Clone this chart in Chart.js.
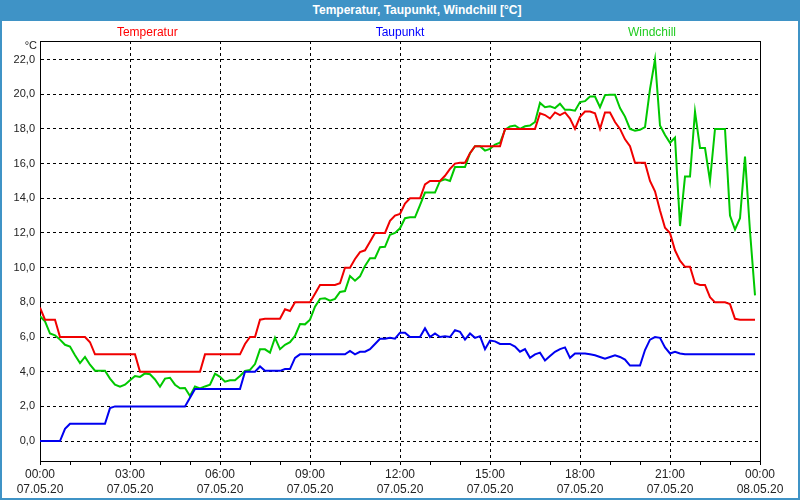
<!DOCTYPE html>
<html>
<head>
<meta charset="utf-8">
<script src="https://cdn.jsdelivr.net/npm/chart.js@4/dist/chart.umd.min.js"></script>
<style>
  body { margin: 0; background: #fff; }
  #frame { position: absolute; left: 0; top: 0; width: 800px; height: 500px; box-sizing: border-box;
           border: 2px solid #3f93c6; border-top: 0; background: #fff; }
  #bar { height: 21px; background: #3f93c6; color: #fff; font: bold 12px 'Liberation Sans', sans-serif;
         line-height: 20px; text-align: center; padding-left: 34px; }
  canvas { display: block; }
</style>
</head>
<body>
<div id="frame">
  <div id="bar">Temperatur, Taupunkt, Windchill [°C]</div>
  <canvas id="myChart" width="796" height="477"></canvas>
</div>
<script>
// sample times in minutes after 00:00 on 07.05.20 (10 minute steps)
var minutes = [
  0, 10, 20, 30, 40, 50, 60, 70, 80, 90, 100, 110, 120, 130, 140, 150, 160, 170, 180, 190,
  200, 210, 220, 230, 240, 250, 260, 270, 280, 290, 300, 310, 320, 330, 340, 350, 360, 370, 380, 390,
  400, 410, 420, 430, 440, 450, 460, 470, 480, 490, 500, 510, 520, 530, 540, 550, 560, 570, 580, 590,
  600, 610, 620, 630, 640, 650, 660, 670, 680, 690, 700, 710, 720, 730, 740, 750, 760, 770, 780, 790,
  800, 810, 820, 830, 840, 850, 860, 870, 880, 890, 900, 910, 920, 930, 940, 950, 960, 970, 980, 990,
  1000, 1010, 1020, 1030, 1040, 1050, 1060, 1070, 1080, 1090, 1100, 1110, 1120, 1130, 1140, 1150, 1160, 1170, 1180, 1190,
  1200, 1210, 1220, 1230, 1240, 1250, 1260, 1270, 1280, 1290, 1300, 1310, 1320, 1330, 1340, 1350, 1360, 1370, 1380, 1390,
  1400, 1410, 1420, 1430
];

var temperatur = [
  7.7, 7.0, 7.0, 7.0, 6.0, 6.0, 6.0, 6.0, 6.0, 6.0,
  5.7, 5.0, 5.0, 5.0, 5.0, 5.0, 5.0, 5.0, 5.0, 5.0,
  4.0, 4.0, 4.0, 4.0, 4.0, 4.0, 4.0, 4.0, 4.0, 4.0,
  4.0, 4.0, 4.0, 5.0, 5.0, 5.0, 5.0, 5.0, 5.0, 5.0,
  5.0, 5.6, 6.0, 6.0, 7.0, 7.05, 7.05, 7.05, 7.05, 7.6,
  7.5, 8.0, 8.0, 8.0, 8.0, 8.5, 9.0, 9.0, 9.0, 9.0,
  9.1, 10.0, 10.0, 10.5, 10.9, 11.0, 11.5, 12.0, 12.0, 12.0,
  12.7, 13.0, 13.1, 13.7, 14.0, 14.0, 14.0, 14.8, 15.0, 15.0,
  15.0, 15.3, 15.7, 16.0, 16.05, 16.05, 16.6, 17.0, 17.0, 17.0,
  17.0, 17.0, 17.0, 18.0, 18.0, 18.0, 18.0, 18.0, 18.0, 18.0,
  18.9, 18.8, 18.6, 18.95, 18.8, 18.95, 18.6, 18.0, 18.7, 19.0,
  19.0, 18.9, 18.0, 18.95, 18.95, 18.4, 18.0, 17.4, 17.0, 16.05,
  16.05, 16.05, 15.0, 14.4, 13.3, 12.3, 12.0, 11.0, 10.4, 10.05,
  10.05, 9.1, 9.0, 9.0, 8.3, 8.0, 8.0, 8.0, 7.9, 7.05,
  7.0, 7.0, 7.0, 7.0
];

var taupunkt = [
  0.0, 0.0, 0.0, 0.0, 0.0, 0.7, 1.0, 1.0, 1.0, 1.0,
  1.0, 1.0, 1.0, 1.0, 1.9, 2.0, 2.0, 2.0, 2.0, 2.0,
  2.0, 2.0, 2.0, 2.0, 2.0, 2.0, 2.0, 2.0, 2.0, 2.0,
  2.5, 3.0, 3.0, 3.0, 3.0, 3.0, 3.0, 3.0, 3.0, 3.0,
  3.0, 4.0, 4.0, 4.0, 4.3, 4.05, 4.05, 4.05, 4.05, 4.15,
  4.15, 4.8, 5.0, 5.0, 5.0, 5.0, 5.0, 5.0, 5.0, 5.0,
  5.0, 5.0, 5.2, 5.0, 5.15, 5.15, 5.3, 5.6, 5.9, 5.9,
  5.95, 5.9, 6.25, 6.25, 6.0, 6.0, 6.0, 6.5, 6.0, 6.2,
  6.0, 6.05, 6.0, 6.4, 6.3, 5.85, 6.2, 5.95, 6.05, 5.3,
  5.8, 5.75, 5.6, 5.6, 5.6, 5.45, 5.15, 5.3, 4.8, 5.0,
  5.1, 4.65, 4.9, 5.15, 5.3, 5.4, 4.8, 5.05, 5.05, 5.05,
  5.0, 4.95, 4.85, 4.75, 4.85, 4.95, 4.85, 4.7, 4.35, 4.35,
  4.35, 5.25, 5.85, 6.0, 5.95, 5.4, 5.05, 5.15, 5.05, 5.0,
  5.0, 5.0, 5.0, 5.0, 5.0, 5.0, 5.0, 5.0, 5.0, 5.0,
  5.0, 5.0, 5.0, 5.0
];

var windchill = [
  7.2, 6.9, 6.2, 6.1, 5.85, 5.55, 5.45, 4.95, 4.5, 4.85,
  4.4, 4.06, 4.06, 4.06, 3.6, 3.25, 3.13, 3.25, 3.5, 3.75,
  3.7, 3.9, 3.85, 3.55, 3.13, 3.6, 3.65, 3.25, 3.04, 3.06,
  2.6, 3.15, 3.04, 3.15, 3.25, 3.88, 3.7, 3.42, 3.5, 3.5,
  3.75, 4.04, 4.1, 4.44, 5.29, 5.29, 5.1, 5.96, 5.3, 5.55,
  5.7, 6.06, 6.75, 6.73, 7.0, 7.75, 8.2, 8.23, 8.1, 8.2,
  8.6, 8.65, 9.52, 9.25, 9.5, 10.1, 10.54, 10.54, 11.18, 11.2,
  11.9, 12.0, 12.27, 12.85, 12.9, 12.9, 13.6, 14.33, 14.33, 14.33,
  15.0, 15.1, 15.0, 15.8, 15.8, 15.8, 16.6, 17.0, 17.0, 16.75,
  16.85, 17.1, 17.2, 17.95, 18.14, 18.2, 18.0, 18.15, 18.2, 18.4,
  19.5, 19.25, 19.3, 19.2, 19.45, 19.1, 19.1, 19.05, 19.55, 19.6,
  19.87, 19.87, 19.25, 19.95, 19.97, 19.97, 19.2, 18.71, 18.0, 17.9,
  17.95, 18.1, 20.3, 22.0, 18.2, 17.65, 17.2, 17.5, 12.4, 15.25,
  15.25, 19.0, 16.9, 16.9, 15.0, 18.0, 18.0, 18.0, 13.0, 12.2,
  12.85, 16.4, 12.1, 8.4
];

var seriesNames = ['Temperatur', 'Taupunkt', 'Windchill'];
var lineColors = ['rgb(240, 0, 0)', 'rgb(0, 0, 240)', 'rgb(0, 200, 0)'];
var textColors = ['#ff0000', '#0000ff', '#22cc22'];
var yTicks = [0, 2, 4, 6, 8, 10, 12, 14, 16, 18, 20, 22];
var xTicks = [0, 60, 120, 180, 240, 300, 360, 420, 480, 540, 600, 660, 720, 780, 840, 900,
              960, 1020, 1080, 1140, 1200, 1260, 1320, 1380, 1440];
var dayLabels = ['07.05.20', '08.05.20'];

function pad(n) { return (n < 10 ? '0' : '') + n; }

// box around the plot, series names above it and the unit label
var decorations = {
  id: 'decorations',
  beforeDatasetsDraw: function (chart) {
    var ctx = chart.ctx, a = chart.chartArea;
    ctx.save();
    ctx.strokeStyle = '#000';
    ctx.lineWidth = 1;
    ctx.beginPath();
    ctx.moveTo(Math.round(a.left) + 0.5, Math.round(a.top) + 0.5);
    ctx.lineTo(Math.round(a.right) + 0.5, Math.round(a.top) + 0.5);
    ctx.lineTo(Math.round(a.right) + 0.5, Math.round(a.bottom) + 0.5);
    ctx.stroke();
    ctx.restore();
  },
  afterDraw: function (chart) {
    var ctx = chart.ctx, a = chart.chartArea;
    var w = a.right - a.left;
    var pos = [0.149, 0.5, 0.85];
    ctx.save();
    ctx.font = '12px "Liberation Sans", sans-serif';
    ctx.textAlign = 'center';
    ctx.textBaseline = 'middle';
    for (var i = 0; i < seriesNames.length; i++) {
      ctx.fillStyle = textColors[i];
      ctx.fillText(seriesNames[i], a.left + pos[i] * w, 12);
    }
    ctx.fillStyle = '#222';
    ctx.textAlign = 'right';
    ctx.font = '11px "Liberation Sans", sans-serif';
    ctx.fillText('°C', a.left - 3, 25);
    ctx.restore();
  }
};

Chart.defaults.font.family = '"Liberation Sans", sans-serif';
Chart.defaults.color = '#222';

var ctx = document.getElementById('myChart').getContext('2d');
var chart = new Chart(ctx, {
  type: 'line',

  data: {
    labels: minutes,
    datasets: [
      { label: seriesNames[0], data: temperatur, borderColor: lineColors[0] },
      { label: seriesNames[1], data: taupunkt, borderColor: lineColors[1] },
      { label: seriesNames[2], data: windchill, borderColor: lineColors[2] },
    ],
  },

  options: {
    responsive: false,
    animation: false,
    layout: { padding: { top: 20, right: 38, left: 0, bottom: 0 } },
    elements: {
      line: { borderWidth: 2, tension: 0, fill: false },
      point: { radius: 0, hoverRadius: 0 },
    },
    plugins: {
      legend: { display: false },
      tooltip: { enabled: false },
    },
    scales: {
      x: {
        type: 'linear',
        min: 0,
        max: 1440,
        afterBuildTicks: function (s) { s.ticks = xTicks.map(function (v) { return { value: v }; }); },
        afterFit: function (s) { s.height = 37; },
        ticks: {
          autoSkip: false,
          maxRotation: 0,
          padding: 2,
          font: { size: 12, lineHeight: 1.25 },
          callback: function (v) {
            if (v % 180 !== 0) return '';
            var h = Math.floor(v / 60) % 24;
            return [pad(h) + ':00', v >= 1440 ? dayLabels[1] : dayLabels[0]];
          },
        },
        grid: {
          color: function (c) { return c.tick && c.tick.value % 180 === 0 ? '#000' : 'rgba(0,0,0,0)'; },
          tickColor: '#000',
          tickLength: 4,
          tickBorderDash: [],
        },
        border: { display: true, color: '#000', width: 1, dash: [3, 3] },
      },
      y: {
        min: -1.15,
        max: 23.07,
        afterBuildTicks: function (s) { s.ticks = yTicks.map(function (v) { return { value: v }; }); },
        afterFit: function (s) { s.width = 38; },
        ticks: {
          padding: 5,
          font: { size: 11 },
          callback: function (v) { return v.toFixed(1).replace('.', ','); },
        },
        grid: {
          color: '#000',
          drawTicks: false,
        },
        border: { display: true, color: '#000', width: 1, dash: [3, 3] },
      },
    },
  },
  plugins: [decorations],
});
</script>
</body>
</html>
